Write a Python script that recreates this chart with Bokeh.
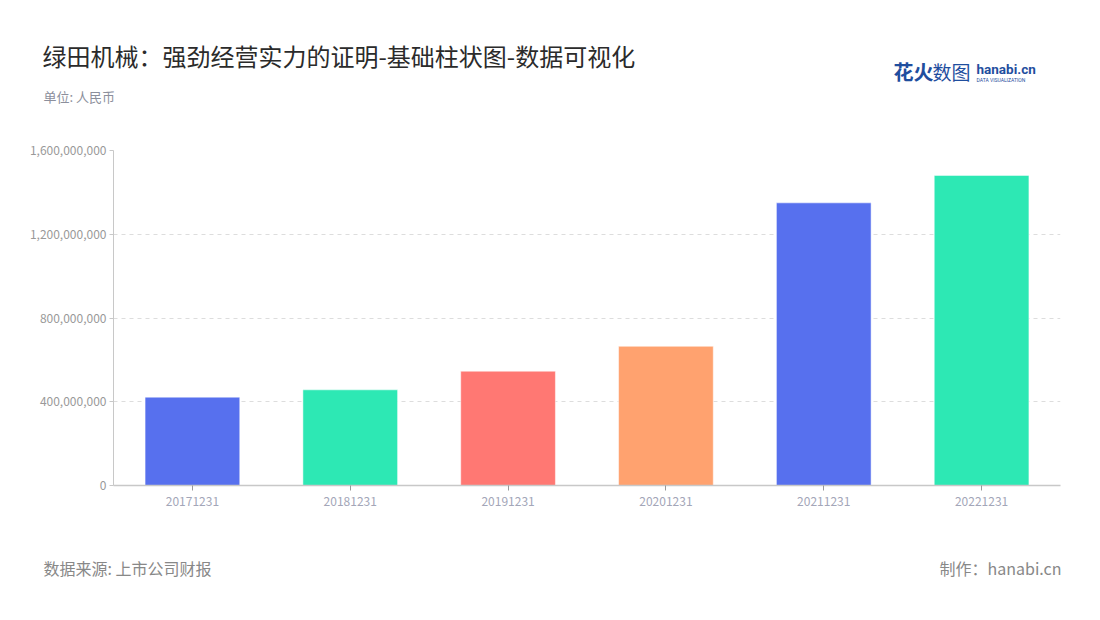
from bokeh.plotting import figure
from bokeh.models import NumeralTickFormatter, FixedTicker, ColumnDataSource, Range1d
from bokeh.layouts import column
from bokeh.core.properties import value
from bokeh.embed import file_html
from bokeh.resources import INLINE

categories = ["20171231", "20181231", "20191231", "20201231", "20211231", "20221231"]
values = [422000000, 457000000, 546000000, 665000000, 1350000000, 1481000000]
colors = ["#5770EE", "#2DE8B4", "#FF7873", "#FFA26F", "#5770EE", "#2DE8B4"]
y_ticks = [0, 400000000, 800000000, 1200000000, 1600000000]

title = "绿田机械：强劲经营实力的证明-基础柱状图-数据可视化"
subtitle = "单位: 人民币"
source_text = "数据来源: 上市公司财报"
maker_text = "制作：hanabi.cn"
logo_cn_a = "花火"
logo_cn_b = "数图"
logo_en = "hanabi.cn"
logo_sub = "DATA VISUALIZATION"

FONT = "Noto Sans CJK SC"
W = 1092


def text_panel(h):
    f = figure(width=W, height=h, x_range=Range1d(0, W), y_range=Range1d(h, 0),
               x_axis_type=None, y_axis_type=None, output_backend="svg",
               toolbar_location=None, min_border=0, frame_align=False)
    f.outline_line_color = None
    f.grid.grid_line_color = None
    return f


def txt(f, x, y, t, size, color, align="left", style="normal", font=FONT):
    f.text(x=[x], y=[y], text=[t], text_font=value(font), text_font_size=size,
           text_color=color, text_align=align, text_baseline="middle",
           text_font_style=style)


# header
head = text_panel(130)
txt(head, 42, 55, title, "24px", "#2b2b2b")
txt(head, 43, 96, subtitle, "13px", "#8c8f9c")
txt(head, 893, 71, logo_cn_a, "20px", "#1f4e9e", style="bold")
txt(head, 932, 71, logo_cn_b, "19px", "#1f4e9e")
txt(head, 976, 68, logo_en, "13.5px", "#1f4e9e", style="bold", font="Roboto")
txt(head, 976, 79, logo_sub, "5px", "#1f4e9e", font="Roboto")

# chart
p = figure(x_range=categories, y_range=(0, 1600000000), width=W, height=20 + 335 + 45,
           output_backend="svg", toolbar_location=None, frame_align=False,
           min_border_left=113, min_border_right=32, min_border_top=20, min_border_bottom=45)
p.outline_line_color = None

src = ColumnDataSource(dict(cat=categories, val=values, col=colors))
p.vbar(x="cat", top="val", width=0.6, source=src, fill_color="col",
       line_color="white", line_alpha=0.5, line_width=1)

p.x_range.range_padding = 0
p.xgrid.grid_line_color = None
p.ygrid.grid_line_color = "#dddddd"
p.ygrid.grid_line_dash = "4 4"
p.yaxis.ticker = FixedTicker(ticks=y_ticks)
p.yaxis.formatter = NumeralTickFormatter(format="0,0")
p.yaxis.minor_tick_line_color = None
p.yaxis.major_tick_in = 0
p.yaxis.major_tick_out = 4
p.yaxis.axis_line_color = "#c8c8c8"
p.yaxis.major_tick_line_color = "#c8c8c8"
p.yaxis.major_label_text_color = "#999999"
p.yaxis.major_label_text_font = FONT
p.yaxis.major_label_text_font_size = "12px"
p.yaxis.major_label_standoff = 3

p.xaxis.axis_line_color = "#c8c8c8"
p.xaxis.axis_line_width = 1.5
p.xaxis.major_tick_line_color = "#999999"
p.xaxis.major_tick_in = 0
p.xaxis.major_tick_out = 5
p.xaxis.minor_tick_line_color = None
p.xaxis.major_label_text_color = "#a3a6b8"
p.xaxis.major_label_text_font = FONT
p.xaxis.major_label_text_font_size = "12px"
p.xaxis.major_label_standoff = 6

# footer
foot = text_panel(74)
txt(foot, 43, 37, source_text, "16px", "#888888")
txt(foot, 1061, 37, maker_text, "16px", "#888888", align="right")

layout = column(head, p, foot, spacing=0)
open("out.html", "w").write(file_html(layout, INLINE))
